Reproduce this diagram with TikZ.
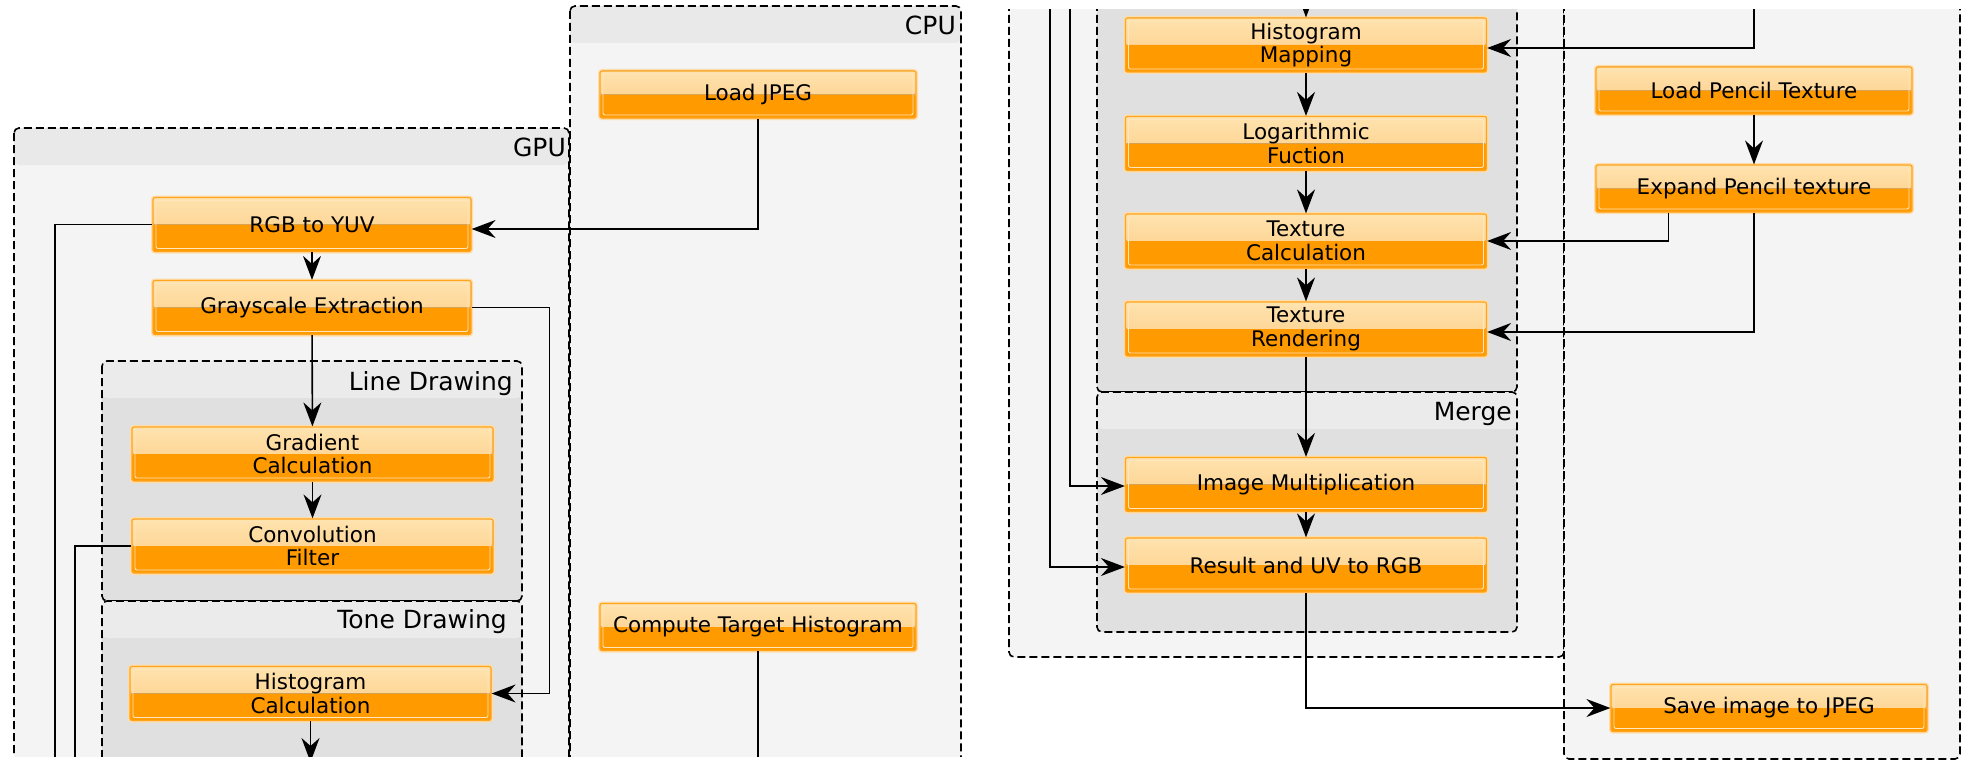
\documentclass[tikz,border=0pt]{standalone}
\usepackage{fontspec}
\setmainfont{DejaVu Sans}
\usetikzlibrary{arrows.meta}
\definecolor{boxglow}{HTML}{FFDDA8}
\definecolor{boxedge}{HTML}{FFA41F}
\definecolor{boxinner}{HTML}{FFE6BC}
\definecolor{boxtop}{HTML}{FEE3AE}
\definecolor{boxmid}{HTML}{FDCA82}
\definecolor{boxdark}{HTML}{FF9A00}
\definecolor{outerbg}{HTML}{F4F4F4}
\definecolor{outerhd}{HTML}{E9E9E9}
\definecolor{innerbg}{HTML}{E0E0E0}
\definecolor{innerhd}{HTML}{EBEBEB}
\tikzset{
  stage/.style={rectangle, rounded corners=2pt, draw=boxedge, line width=1.2pt, inner sep=0pt,
    preaction={draw=boxglow, line width=4pt},
    font=\fontsize{21.5}{23.5}\selectfont, align=center, text=black,
    path picture={
      \fill[top color=boxtop, bottom color=boxmid] (path picture bounding box.north west) rectangle (path picture bounding box.east);
      \fill[boxdark] (path picture bounding box.west) rectangle (path picture bounding box.south east);
      \draw[boxinner, line width=0.9pt] ([shift={(3pt,-3pt)}]path picture bounding box.north west) rectangle ([shift={(-3pt,3pt)}]path picture bounding box.south east);
    }},
  cpustage/.style={stage, minimum width=316pt, minimum height=47pt},
  gpustage/.style={stage, minimum width=318pt, minimum height=54pt},
  widestage/.style={stage, minimum width=361pt, minimum height=54pt},
  outerbox/.style={fill=outerbg, draw=black, dash pattern=on 8pt off 4pt, line width=1.6pt, rounded corners=5pt},
  innerbox/.style={outerbox, fill=innerbg},
  withhead/.style={path picture={\fill[#1] (path picture bounding box.north west) rectangle ([yshift=-37pt]path picture bounding box.north east);}},
  title/.style={anchor=base east, font=\fontsize{25}{30}\selectfont, inner sep=0pt},
  flow/.style={-{Stealth[length=24pt,width=18pt,inset=8pt]}, line width=1.6pt},
  link/.style={line width=1.6pt}
}
\begin{document}
\begin{tikzpicture}[x=1pt, y=-1pt]
  \useasboundingbox (0,0) rectangle (1962,776);
  \fill[white] (0,0) rectangle (1962,776);

  \begin{scope}
    \clip (0,0) rectangle (985,756);
    \path[outerbox, withhead=outerhd] (14,128) rectangle (569,800);
    \path[outerbox, withhead=outerhd] (570,6) rectangle (961,800);
    \path[innerbox, withhead=innerhd] (102,361) rectangle (522,601);
    \path[innerbox, withhead=innerhd] (102,601) rectangle (522,900);
    \node[title] (gputitle) at (566,156) {GPU};
    \node[title] (cputitle) at (956,35) {CPU};
    \node[title] (linetitle) at (513,390) {Line Drawing};
    \node[title] (tonetitle) at (507,628) {Tone Drawing};

    \node[cpustage] (loadjpeg) at (758,94.5) {Load JPEG};
    \node[gpustage] (rgbyuv) at (312,224.5) {RGB to YUV};
    \node[gpustage] (grayext) at (312,307.5) {Grayscale Extraction};
    \node[widestage] (gradcalc) at (312.5,454) {Gradient\\Calculation};
    \node[widestage] (convfilt) at (312.5,546) {Convolution\\Filter};
    \node[widestage] (histcalc) at (310.5,693.5) {Histogram\\Calculation};
    \node[cpustage] (targethist) at (758,627) {Compute Target Histogram};
    \coordinate (histcut) at (310.5,762);
    \coordinate (uvcut) at (55,770);
    \coordinate (filtcut) at (75,770);
    \coordinate (targetcut) at (758,770);

    \draw[flow] (loadjpeg) |- ([yshift=-4.5pt]rgbyuv.east);
    \draw[flow] (rgbyuv) -- (grayext);
    \draw[flow] (grayext) -- (gradcalc);
    \draw[flow] (gradcalc) -- (convfilt);
    \draw[flow] (grayext.east) -- ++(78,0) |- (histcalc.east);
    \draw[flow] (histcalc) -- (histcut);
    \draw[link] (rgbyuv.west) -| (uvcut);
    \draw[link] (convfilt.west) -| (filtcut);
    \draw[link] (targethist) -- (targetcut);
  \end{scope}

  \begin{scope}
    \clip (985,10) rectangle (1962,776);
    \path[outerbox] (1009,-50) rectangle (1564,657);
    \path[outerbox] (1564,-50) rectangle (1960,759);
    \path[innerbox] (1097,-50) rectangle (1517,392);
    \path[innerbox, withhead=innerhd] (1097,392) rectangle (1517,632);
    \node[title] (mergetitle) at (1512,420) {Merge};

    \node[widestage] (histmap) at (1306,45) {Histogram\\Mapping};
    \node[widestage] (logfunc) at (1306,143.5) {Logarithmic\\Fuction};
    \node[widestage] (texcalc) at (1306,241) {Texture\\Calculation};
    \node[widestage] (texrend) at (1306,329) {Texture\\Rendering};
    \node[widestage] (imgmult) at (1306,484.5) {Image Multiplication};
    \node[widestage] (uvrgb) at (1306,565) {Result and UV to RGB};
    \node[cpustage] (loadpencil) at (1754,90.5) {Load Pencil Texture};
    \node[cpustage] (expandpencil) at (1754,188.5) {Expand Pencil texture};
    \node[cpustage] (savejpeg) at (1769,708) {Save image to JPEG};
    \coordinate (histtop) at (1306,-10);
    \coordinate (targettop) at (1754,-10);
    \coordinate (uvtop) at (1050,-10);
    \coordinate (filttop) at (1070,-10);

    \draw[flow] (histtop) -- (histmap);
    \draw[flow] (targettop) |- ([yshift=-3pt]histmap.east);
    \draw[flow] (uvtop) |- ([yshift=-2pt]uvrgb.west);
    \draw[flow] (filttop) |- ([yshift=-1.5pt]imgmult.west);
    \draw[flow] (histmap) -- (logfunc);
    \draw[flow] (logfunc) -- (texcalc);
    \draw[flow] (texcalc) -- (texrend);
    \draw[flow] (texrend) -- (imgmult);
    \draw[flow] (imgmult) -- (uvrgb);
    \draw[flow] (loadpencil) -- (expandpencil);
    \draw[flow] ([xshift=-85.5pt]expandpencil.south) |- (texcalc.east);
    \draw[flow] (expandpencil.south) |- ([yshift=-3pt]texrend.east);
    \draw[flow] (uvrgb) |- (savejpeg.west);
  \end{scope}
\end{tikzpicture}
\end{document}
